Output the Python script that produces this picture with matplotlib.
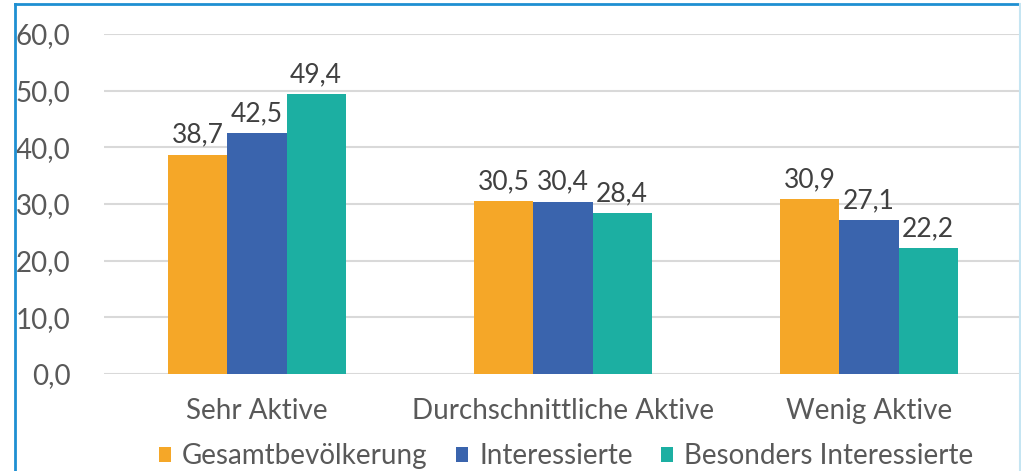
import numpy as np
import matplotlib.pyplot as plt
from matplotlib.lines import Line2D

categories = ["Sehr Aktive", "Durchschnittliche Aktive", "Wenig Aktive"]
series = ["Gesamtbevölkerung", "Interessierte", "Besonders Interessierte"]
gesamt = [38.7, 30.5, 30.9]
interessierte = [42.5, 30.4, 27.1]
besonders = [49.4, 28.4, 22.2]
colors = ["#F5A728", "#3A64AD", "#1CAFA2"]

plt.rcParams["font.family"] = ["Lato", "DejaVu Sans"]

fig = plt.figure(figsize=(10.21, 4.71), dpi=100)
ax = fig.add_axes([104 / 1021, 97 / 471, 918 / 1021, 340 / 471])

x = np.arange(len(categories))
w = 0.193
for i, (vals, name) in enumerate(zip([gesamt, interessierte, besonders], series)):
    bars = ax.bar(x + (i - 1) * w, vals, w, color=colors[i], label=name, zorder=2)
    ax.bar_label(bars, labels=[f"{v:.1f}".replace(".", ",") for v in vals],
                 padding=5, fontsize=19, color="#404040")

ax.set_xlim(-0.5, 2.5)
ax.set_ylim(0, 60)
ax.set_yticks(range(0, 61, 10))
ax.set_yticklabels([f"{v},0" for v in range(0, 61, 10)])
ax.set_xticks(x)
ax.set_xticklabels(categories)
ax.tick_params(axis="both", length=0, labelsize=20, labelcolor="#595959")
ax.tick_params(axis="y", pad=24)
ax.tick_params(axis="x", pad=17)
ax.grid(axis="y", color="#D9D9D9", linewidth=1.5, zorder=0)
for s in ax.spines.values():
    s.set_visible(False)

fig.legend(loc="center", bbox_to_anchor=(566 / 1021, 1 - 456 / 471), ncol=3,
           frameon=False, fontsize=20, labelcolor="#595959",
           handlelength=0.45, handleheight=0.45, handletextpad=0.4, columnspacing=1.0)

# border of the chart frame
fig.add_artist(Line2D([15 / 1021, 15 / 1021], [0, 1 - 4 / 471], color="#1E8FD2", lw=2))
fig.add_artist(Line2D([15 / 1021, 1020 / 1021], [1 - 4 / 471, 1 - 4 / 471], color="#1E8FD2", lw=2))
fig.add_artist(Line2D([1020 / 1021, 1020 / 1021], [0, 1 - 4 / 471], color="#C5E5F2", lw=1.5))

fig.savefig("out.png", dpi=100)
